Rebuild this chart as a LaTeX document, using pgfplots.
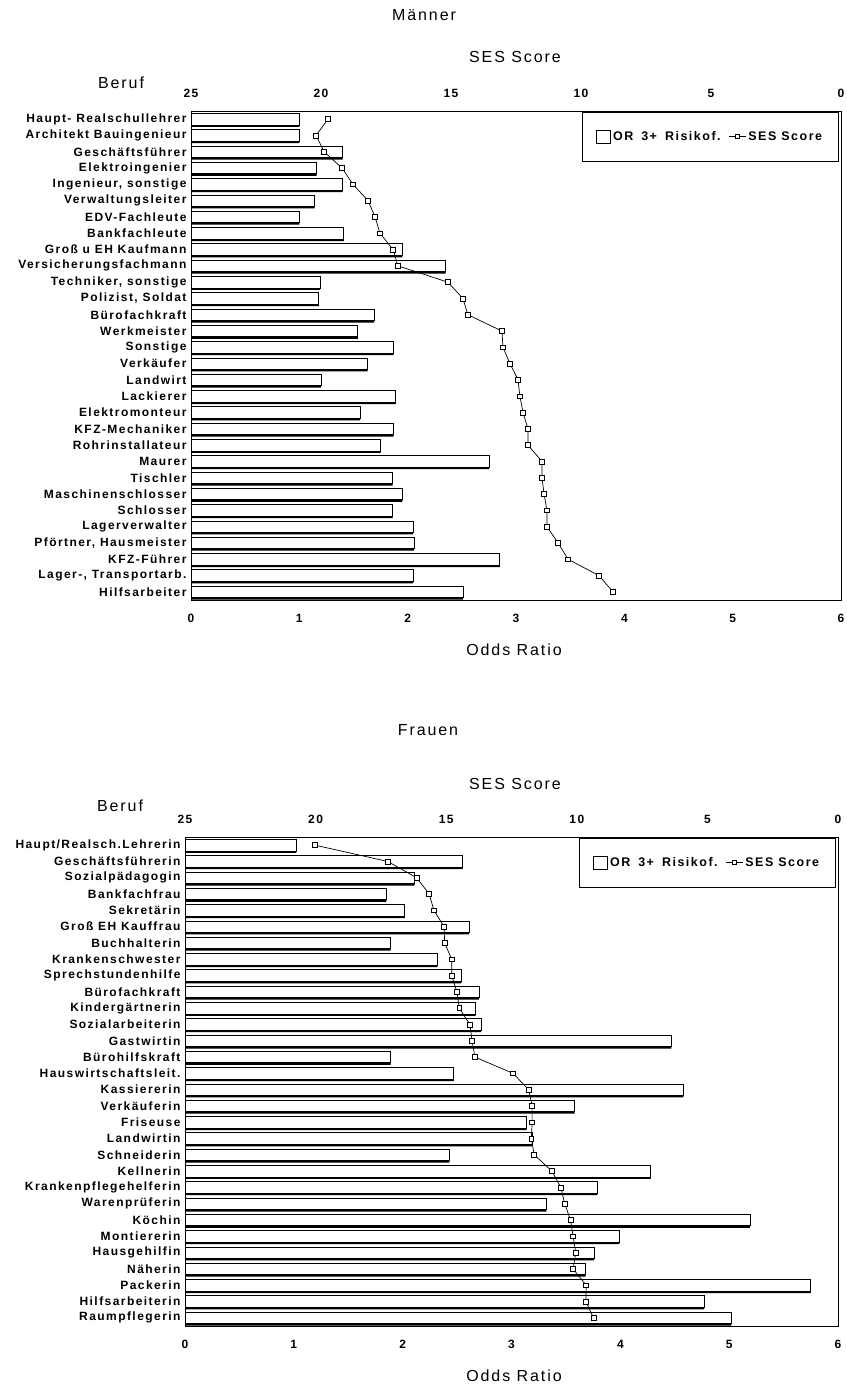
\documentclass[border=0pt]{standalone}
\usepackage{fontspec}
\setmainfont{Liberation Sans}
\newfontfamily\wide[LetterSpace=12]{Liberation Sans}
\usepackage{pgfplots}
\usepackage{pgfplotstable}
\pgfplotsset{compat=1.18}

% Berufe: Odds Ratio (3+ Risikofaktoren) und SES Score
\pgfplotstableread[col sep=semicolon]{
label;or;ses
Haupt- Realschullehrer;1.00;19.73
Architekt Bauingenieur;1.00;20.19
Geschäftsführer;1.40;19.88
Elektroingenier;1.16;19.19
Ingenieur, sonstige;1.40;18.77
Verwaltungsleiter;1.14;18.19
EDV-Fachleute;1.00;17.92
Bankfachleute;1.41;17.73
Groß u EH Kaufmann;1.95;17.23
Versicherungsfachmann;2.35;17.04
Techniker, sonstige;1.19;15.12
Polizist, Soldat;1.18;14.54
Bürofachkraft;1.69;14.35
Werkmeister;1.54;13.04
Sonstige;1.87;13.00
Verkäufer;1.63;12.73
Landwirt;1.20;12.42
Lackierer;1.89;12.35
Elektromonteur;1.56;12.23
KFZ-Mechaniker;1.87;12.04
Rohrinstallateur;1.75;12.04
Maurer;2.75;11.50
Tischler;1.86;11.50
Maschinenschlosser;1.95;11.42
Schlosser;1.86;11.31
Lagerverwalter;2.05;11.31
Pförtner, Hausmeister;2.06;10.88
KFZ-Führer;2.85;10.50
Lager-, Transportarb.;2.05;9.31
Hilfsarbeiter;2.51;8.77
}\men

\pgfplotstableread[col sep=semicolon]{
label;or;ses
Haupt/Realsch.Lehrerin;1.02;20.02
Geschäftsführerin;2.55;17.24
Sozialpädagogin;2.11;16.13
Bankfachfrau;1.85;15.65
Sekretärin;2.02;15.47
Groß EH Kauffrau;2.61;15.08
Buchhalterin;1.89;15.06
Krankenschwester;2.32;14.79
Sprechstundenhilfe;2.54;14.79
Bürofachkraft;2.70;14.59
Kindergärtnerin;2.67;14.50
Sozialarbeiterin;2.72;14.09
Gastwirtin;4.47;14.01
Bürohilfskraft;1.89;13.90
Hauswirtschaftsleit.;2.47;12.44
Kassiererin;4.58;11.84
Verkäuferin;3.58;11.71
Friseuse;3.14;11.71
Landwirtin;3.19;11.74
Schneiderin;2.43;11.63
Kellnerin;4.28;10.95
Krankenpflegehelferin;3.79;10.61
Warenprüferin;3.32;10.46
Köchin;5.19;10.24
Montiererin;3.99;10.14
Hausgehilfin;3.76;10.04
Näherin;3.68;10.14
Packerin;5.75;9.64
Hilfsarbeiterin;4.77;9.65
Raumpflegerin;5.02;9.36
}\women

\newcommand\lblfont{\fontsize{12}{13}\selectfont\wide\bfseries}
\newcommand\legfont{\fontsize{12.5}{13}\selectfont\wide\bfseries}
\newcommand\headfont{\fontsize{16}{17}\selectfont\wide}

\pgfplotsset{
  panel/.style={scale only axis, height=489pt,
    ymin=0.5, ymax=30.5, y dir=reverse,
    major tick length=0pt,
    /pgf/number format/assume math mode=true,
    tick label style={font=\lblfont}},
  orax/.style={panel, xmin=0, xmax=6, xtick={0,...,6},
    xtick pos=left, ytick={1,...,30}, ytick pos=left,
    axis line style={line width=1pt},
    yticklabel style={xshift=-1pt},
    xticklabel style={yshift=-11pt}},
  sesax/.style={panel, xmin=0, xmax=25, x dir=reverse,
    xtick={0,5,...,25}, axis x line*=top, hide y axis,
    x axis line style={draw=none},
    xticklabel style={yshift=10pt},
    legend style={at={(1,1)}, xshift=-2.5pt, yshift=-1pt,
      anchor=north east, draw=black,
      line width=0.8pt, fill=white, font=\legfont, legend columns=2,
      inner xsep=14pt, inner ysep=17pt,
      /tikz/every even column/.append style={column sep=6pt}}},
  barwhite/.style={xbar, bar width=11.5pt, bar shift=0pt, draw=black,
    fill=white, line width=0.7pt},
  barshadow/.style={xbar, bar width=11.5pt, bar shift=-2pt, draw=none,
    fill=black},
  sesline/.style={black, line width=0.7pt, mark=square*, mark size=2.4pt,
    mark options={fill=white, solid, line width=0.7pt}},
  boximg/.style={legend image code/.code={
    \draw[black, line width=0.7pt, fill=white] (0pt,-6.5pt) rectangle (14pt,6.5pt);}},
  sesimg/.style={legend image code/.code={
    \draw[black, line width=0.7pt] (0pt,0pt) -- (17pt,0pt);
    \draw[black, line width=0.6pt, fill=white] (6.5pt,-2pt) rectangle (10.5pt,2pt);}},
}

\begin{document}
\begin{tikzpicture}
\useasboundingbox (0,0) rectangle (846pt,-1389pt);

% ---- Maenner ----
\node[font=\headfont] at (424pt,-15pt) {Männer};
\node[font=\headfont] at (515pt,-57pt) {SES Score};
\node[font=\headfont] at (121pt,-83pt) {Beruf};
\node[font=\headfont] at (514pt,-650pt) {Odds Ratio};

\begin{axis}[orax, at={(191pt,-111pt)}, anchor=north west, width=650pt,
  yticklabels from table={\men}{label}]
\addplot[barshadow] table[x=or, y expr=\coordindex+1] {\men};
\addplot[barwhite] table[x=or, y expr=\coordindex+1] {\men};
\end{axis}
\begin{axis}[sesax, at={(191pt,-111pt)}, anchor=north west, width=650pt]
\addlegendimage{boximg}
\addlegendentry{OR\hspace{3pt} 3+\hspace{3pt} Risikof.}
\addplot[sesline, sesimg] table[x=ses, y expr=\coordindex+1] {\men};
\addlegendentry{SES Score}
\end{axis}

% ---- Frauen ----
\node[font=\headfont] at (428pt,-730pt) {Frauen};
\node[font=\headfont] at (515pt,-784pt) {SES Score};
\node[font=\headfont] at (120pt,-806pt) {Beruf};
\node[font=\headfont] at (514pt,-1376pt) {Odds Ratio};

\begin{axis}[orax, at={(185pt,-837pt)}, anchor=north west, width=653pt,
  yticklabels from table={\women}{label}]
\addplot[barshadow] table[x=or, y expr=\coordindex+1] {\women};
\addplot[barwhite] table[x=or, y expr=\coordindex+1] {\women};
\end{axis}
\begin{axis}[sesax, at={(185pt,-837pt)}, anchor=north west, width=653pt]
\addlegendimage{boximg}
\addlegendentry{OR\hspace{3pt} 3+\hspace{3pt} Risikof.}
\addplot[sesline, sesimg] table[x=ses, y expr=\coordindex+1] {\women};
\addlegendentry{SES Score}
\end{axis}
\end{tikzpicture}
\end{document}
